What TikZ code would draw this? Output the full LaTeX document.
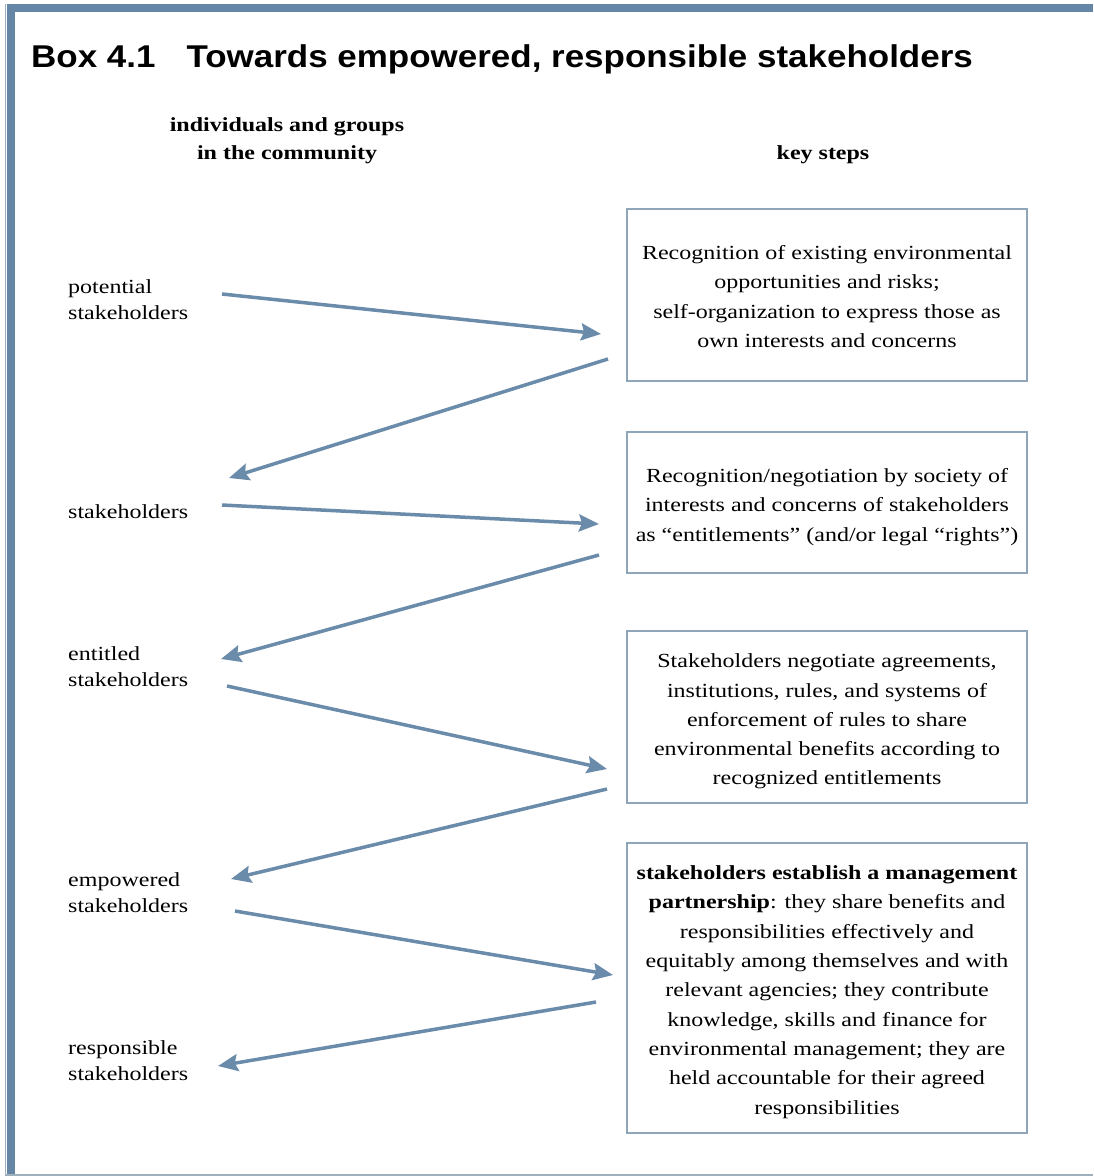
\documentclass[tikz,border=0pt]{standalone}
\usepackage{fontspec}
\setmainfont[FakeStretch=1.2]{Liberation Serif}
\newfontfamily\titlefont[FakeStretch=1.11]{Liberation Sans}
\usetikzlibrary{arrows.meta}
\definecolor{barblue}{HTML}{6587A5}
\definecolor{arrowblue}{HTML}{6A8BA9}
\definecolor{boxline}{HTML}{8FA6BA}
\definecolor{thinline}{HTML}{A0AFBC}
\newcommand{\downby}[1]{\rule{0pt}{#1}}
\begin{document}
\begin{tikzpicture}[x=1pt,y=-1pt,
  keybox/.style={draw=boxline,line width=1.5pt,minimum width=400pt,align=center,inner sep=0pt,
    font=\fontsize{20}{29.3}\selectfont},
  grouplabel/.style={anchor=west,align=left,inner sep=0pt,font=\fontsize{20}{26}\selectfont},
  heading/.style={align=center,inner sep=0pt,font=\bfseries\fontsize{20}{27.5}\selectfont},
  flow/.style={draw=arrowblue,line width=3.5pt,-{Stealth[length=20pt,width=17pt,inset=3pt]}}
]
\useasboundingbox (0,0) rectangle (1093,1176);
% frame
\fill[barblue] (7,4) rectangle (15,1176);
\fill[barblue] (7,4) rectangle (1093,12);
\draw[thinline,line width=1pt] (5.5,3.5) -- (5.5,1176);
\draw[thinline,line width=1.5pt] (6,1175) -- (1093,1175);

% title
\node[anchor=base west,inner sep=0pt,font=\titlefont\bfseries\fontsize{31.5}{36}\selectfont] (title) at (31,67)
  {Box 4.1\hspace{31pt}Towards empowered, responsible stakeholders};

% headings
\node[heading] (hleft) at (287,140.7) {individuals and groups\\in the community};
\node[heading,anchor=base] (hright) at (823,159) {key steps};

% left labels
\node[grouplabel] (potential) at (68,299.2) {potential\\stakeholders};
\node[grouplabel] (stake) at (68,512) {stakeholders};
\node[grouplabel] (entitled) at (68,666.2) {entitled\\stakeholders};
\node[grouplabel] (empowered) at (68,892.2) {empowered\\stakeholders};
\node[grouplabel] (responsible) at (68,1060.2) {responsible\\stakeholders};

% key step boxes
\node[keybox,minimum height=172pt] (k1) at (827,295)
  {\downby{17pt}Recognition of existing environmental\\opportunities and risks;\\self-organization to express those as\\own interests and concerns};
\node[keybox,minimum height=141pt] (k2) at (827,502.5)
  {\downby{23pt}Recognition/negotiation by society of\\interests and concerns of stakeholders\\as ``entitlements'' (and/or legal ``rights'')};
\node[keybox,minimum height=172pt] (k3) at (827,717)
  {\downby{23pt}Stakeholders negotiate agreements,\\institutions, rules, and systems of\\enforcement of rules to share\\environmental benefits according to\\recognized entitlements};
\node[keybox,minimum height=290pt] (k4) at (827,988)
  {\downby{22pt}\textbf{stakeholders establish a management}\\\textbf{partnership}: they share benefits and\\responsibilities effectively and\\equitably among themselves and with\\relevant agencies; they contribute\\knowledge, skills and finance for\\environmental management; they are\\held accountable for their agreed\\responsibilities};

% arrow end points
\coordinate (a1s) at (222,294); \coordinate (a1e) at (601,334);
\coordinate (a2s) at (608,359); \coordinate (a2e) at (229,478);
\coordinate (a3s) at (222,505); \coordinate (a3e) at (599,524);
\coordinate (a4s) at (599,555); \coordinate (a4e) at (221,659);
\coordinate (a5s) at (227,686); \coordinate (a5e) at (607,769);
\coordinate (a6s) at (607,789); \coordinate (a6e) at (231,879);
\coordinate (a7s) at (235,911); \coordinate (a7e) at (613,975);
\coordinate (a8s) at (596,1002); \coordinate (a8e) at (218,1066);

\draw[flow] (a1s) -- (a1e);
\draw[flow] (a2s) -- (a2e);
\draw[flow] (a3s) -- (a3e);
\draw[flow] (a4s) -- (a4e);
\draw[flow] (a5s) -- (a5e);
\draw[flow] (a6s) -- (a6e);
\draw[flow] (a7s) -- (a7e);
\draw[flow] (a8s) -- (a8e);
\end{tikzpicture}
\end{document}
